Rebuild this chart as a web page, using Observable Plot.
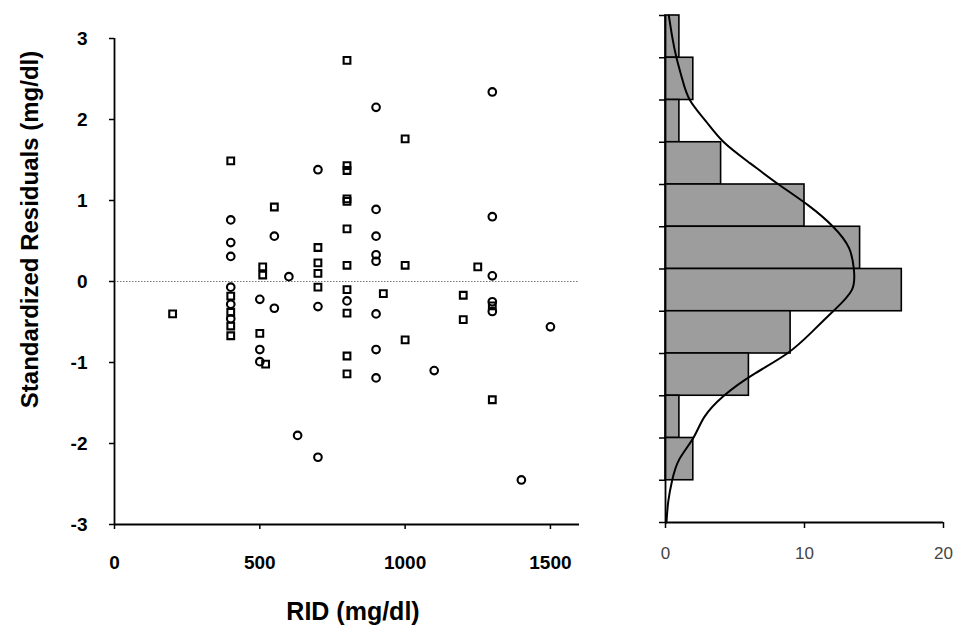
<!DOCTYPE html>
<html><head><meta charset="utf-8">
<script src="https://cdn.jsdelivr.net/npm/d3@7"></script>
<script src="https://cdn.jsdelivr.net/npm/@observablehq/plot@0.6"></script>
<style>
body{margin:0;background:#fff;}
#wrap{position:relative;width:958px;height:635px;overflow:hidden;background:#fff;}
#wrap > svg, #wrap > figure{position:absolute;top:0;margin:0;}
</style></head><body><div id="wrap"></div>
<script>
// Scatter: RID (mg/dl) vs standardized residuals, two marker kinds
const squareRID = [800,1000,400,800,800,800,800,550,800,700,700,800,1000,510,1250,700,510,700,800,925,1200,400,400,200,800,1200,400,500,400,1000,800,520,800,1300,1300];
const squareRes = [2.73,1.76,1.49,1.43,1.37,1.02,0.99,0.92,0.65,0.42,0.23,0.20,0.20,0.18,0.18,0.10,0.08,-0.07,-0.10,-0.15,-0.17,-0.18,-0.38,-0.40,-0.39,-0.47,-0.55,-0.64,-0.67,-0.72,-0.92,-1.02,-1.14,-1.46,-0.30];
const circleRID = [1300,900,700,900,1300,400,550,900,400,900,400,900,1300,600,400,500,800,1300,400,700,550,1300,900,400,1500,900,500,500,1100,900,630,700,1400];
const circleRes = [2.34,2.15,1.38,0.89,0.80,0.76,0.56,0.56,0.48,0.33,0.31,0.25,0.07,0.06,-0.07,-0.22,-0.24,-0.25,-0.28,-0.31,-0.33,-0.37,-0.40,-0.46,-0.56,-0.84,-0.84,-0.99,-1.10,-1.19,-1.90,-2.17,-2.45];
const xTicks = [0, 500, 1000, 1500];
const yTicks = [-3, -2, -1, 0, 1, 2, 3];

// Histogram of residuals with fitted normal curve
const histBinLow  = [2.5, 2.0, 1.5, 1.0, 0.5, 0.0, -0.5, -1.0, -1.5, -2.0, -2.5, -3.0];
const histBinHigh = [3.0, 2.5, 2.0, 1.5, 1.0, 0.5, 0.0, -0.5, -1.0, -1.5, -2.0, -2.5];
const histCounts  = [1, 2, 1, 4, 10, 14, 17, 9, 6, 1, 2, 0];
const histEdges   = [-3, -2.5, -2, -1.5, -1, -0.5, 0, 0.5, 1, 1.5, 2, 2.5, 3];
const histXTicks  = [0, 10, 20];
const curveRes   = [3.0, 2.75, 2.5, 2.25, 2.0, 1.75, 1.5, 1.25, 1.0, 0.75, 0.5, 0.25, 0.0, -0.25, -0.5, -0.75, -1.0, -1.25, -1.5, -1.75, -2.0, -2.25, -2.5, -2.75, -3.0];
const curveCount = [0.24, 0.48, 0.79, 1.2, 1.75, 2.9, 4.2, 6.1, 8.15, 10.3, 12.06, 13.2, 13.55, 13.4, 12.06, 10.5, 8.75, 6.3, 4.2, 2.8, 2.0, 1.0, 0.48, 0.2, 0.07];

const font = "'Liberation Sans', Arial, Helvetica, sans-serif";
const squares = squareRID.map((x, i) => ({rid: x, res: squareRes[i]}));
const circles = circleRID.map((x, i) => ({rid: x, res: circleRes[i]}));
const plain = d => `${d}`;

const scatter = Plot.plot({
  width: 620, height: 635,
  marginLeft: 114, marginRight: 41, marginTop: 38, marginBottom: 111,
  style: {fontFamily: font, background: "transparent", overflow: "visible", color: "black"},
  x: {domain: [0, 1600]},
  y: {domain: [-3, 3]},
  marks: [
    Plot.ruleY([0], {stroke: "#777", strokeWidth: 1, strokeDasharray: "1.5,1.5"}),
    Plot.axisX(xTicks, {tickSize: 5, tickPadding: 26, tickFormat: plain, fontSize: 19, fontWeight: "bold", label: null, strokeWidth: 1.5}),
    Plot.axisY(yTicks, {tickSize: 5, tickPadding: 22, tickFormat: plain, fontSize: 19, fontWeight: "bold", label: null, strokeWidth: 1.5}),
    Plot.ruleX([0], {stroke: "black", strokeWidth: 1.8}),
    Plot.ruleY([-3], {stroke: "black", strokeWidth: 2}),
    Plot.dot(circles, {x: "rid", y: "res", r: 3.8, stroke: "black", strokeWidth: 2.1, fill: "none"}),
    Plot.dot(squares, {x: "rid", y: "res", r: 3.8, symbol: "square", stroke: "black", strokeWidth: 2.1, fill: "none"}),
    Plot.text(["Standardized Residuals (mg/dl)"], {frameAnchor: "left", dx: -84, dy: -52, rotate: -90, textAnchor: "middle", fontSize: 24, fontWeight: "bold", fill: "black"}),
    Plot.text(["RID (mg/dl)"], {frameAnchor: "bottom", dx: 6, dy: 95, textAnchor: "middle", fontSize: 25, fontWeight: "bold", fill: "black"})
  ]
});

const bins = histBinLow.map((lo, i) => ({lo, hi: histBinHigh[i], n: histCounts[i]})).filter(d => d.n > 0);
const curve = curveRes.map((r, i) => ({res: r, n: curveCount[i]}));

const hist = Plot.plot({
  width: 338, height: 635,
  marginLeft: 45, marginRight: 15, marginTop: 15, marginBottom: 113,
  style: {fontFamily: font, background: "transparent", overflow: "visible", color: "black"},
  x: {domain: [0, 20]},
  y: {domain: [-3, 3]},
  marks: [
    Plot.rectX(bins, {x1: 0, x2: "n", y1: "lo", y2: "hi", fill: "#9d9d9d", stroke: "black", strokeWidth: 1.6}),
    Plot.line(curve, {x: "n", y: "res", curve: "natural", stroke: "black", strokeWidth: 2}),
    Plot.axisX(histXTicks, {tickSize: 6, tickPadding: 18, fontSize: 17, fill: "#444", label: null, strokeWidth: 1.5}),
    Plot.axisY(histEdges, {tickSize: 6, tickFormat: () => "", label: null, strokeWidth: 1.5}),
    Plot.ruleX([0], {stroke: "black", strokeWidth: 1.8}),
    Plot.ruleY([-3], {stroke: "black", strokeWidth: 1.8})
  ]
});

const wrap = document.getElementById("wrap");
scatter.style.left = "0px";
hist.style.left = "620px";
wrap.appendChild(scatter);
wrap.appendChild(hist);
</script>
</body></html>
